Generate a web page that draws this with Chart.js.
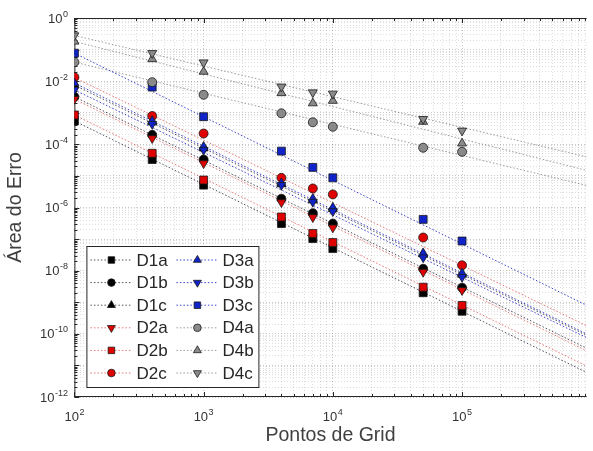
<!DOCTYPE html>
<html>
<head>
<meta charset="utf-8">
<script src="https://cdn.jsdelivr.net/npm/chart.js@4.4.1/dist/chart.umd.min.js"></script>
<style>
  html, body { margin: 0; padding: 0; background: #fff; }
</style>
</head>
<body>
<canvas id="chart" width="593" height="451"></canvas>
<script>
// grid sizes (x) and error area per case (y), log-log
const gridPoints = [100, 400, 1000, 4000, 7000, 10000, 50000, 100000];

const D1a = [5.5e-4, 3.3e-5, 5.1e-6, 3.1e-7, 1.04e-7, 5.0e-8, 2.0e-9, 5.2e-10];
const D1b = [3.2e-3, 2.0e-4, 3.3e-5, 1.9e-6, 6.6e-7, 3.1e-7, 1.15e-8, 2.9e-9];
const D1c = [7.5e-3, 5.0e-4, 7.5e-5, 5.5e-6, 1.7e-6, 9.0e-7, 3.3e-8, 7.5e-9];
const D2a = [2.7e-3, 1.55e-4, 2.5e-5, 1.45e-6, 4.9e-7, 2.3e-7, 9.1e-9, 2.4e-9];
const D2b = [8.5e-4, 5.2e-5, 7.4e-6, 5.0e-7, 1.5e-7, 7.8e-8, 3.0e-9, 7.9e-10];
const D2c = [1.34e-2, 7.9e-4, 2.2e-4, 8.7e-6, 4.0e-6, 2.6e-6, 1.12e-7, 1.48e-8];
const D3a = [8.7e-3, 5.5e-4, 8.4e-5, 5.9e-6, 1.9e-6, 1.0e-6, 3.6e-8, 8.3e-9];
const D3b = [5.3e-3, 4.4e-4, 6.6e-5, 5.1e-6, 1.5e-6, 7.6e-7, 2.6e-8, 6.3e-9];
const D3c = [7.7e-2, 6.5e-3, 7.5e-4, 6.1e-5, 1.86e-5, 8.7e-6, 4.2e-7, 8.7e-8];
const D4a = [4.0e-2, 9.3e-3, 3.7e-3, 9.6e-4, 5.0e-4, 3.6e-4, 7.8e-5, 5.8e-5];
const D4b = [0.18, 0.050, 0.020, 4.2e-3, 2.0e-3, 2.4e-3, 5.2e-4, 1.07e-4];
const D4c = [0.28, 0.077, 0.039, 6.7e-3, 4.4e-3, 4.0e-3, 6.3e-4, 2.7e-4];

const seriesNames = ['D1a', 'D1b', 'D1c', 'D2a', 'D2b', 'D2c', 'D3a', 'D3b', 'D3c', 'D4a', 'D4b', 'D4c'];
const seriesValues = [D1a, D1b, D1c, D2a, D2b, D2c, D3a, D3b, D3c, D4a, D4b, D4c];

// trend lines: value at the left edge and at the right edge of the axes
const fitStart = [5.5e-4, 3.2e-3, 7.5e-3, 2.7e-3, 8.5e-4, 1.3e-2, 8.7e-3, 5.3e-3, 7.7e-2, 4.0e-2, 0.18, 0.28];
const fitEnd   = [6e-12, 3.5e-11, 9e-11, 2.9e-11, 9.5e-12, 1.8e-10, 1.0e-10, 7.6e-11, 8e-10, 5e-6, 1.5e-5, 4e-5];

const xMin = 100, xMax = 9.2e5;
const yMin = 1e-12, yMax = 1;
const xLabelExps = [2, 3, 4, 5];
const yLabelExps = [0, -2, -4, -6, -8, -10, -12];

// marker look per series
const FILL = { k: '#000000', r: '#e00000', b: '#0f23c8', g: '#8a8a8a' };
const LINE = { k: 'rgba(50,50,70,0.85)', r: 'rgba(225,70,70,0.75)', b: 'rgba(25,35,200,0.85)', g: 'rgba(120,120,120,0.75)' };
const STYLE = [
  ['k', 'rect'], ['k', 'circle'], ['k', 'up'],
  ['r', 'down'], ['r', 'rect'], ['r', 'circle'],
  ['b', 'up'], ['b', 'down'], ['b', 'rect'],
  ['g', 'circle'], ['g', 'up'], ['g', 'down'],
];
const FONT = '"Liberation Sans", Arial, Helvetica, sans-serif';

const isMajor = v => Math.abs(Math.log10(v) - Math.round(Math.log10(v))) < 1e-6;
function logTicks(lo, hi) {
  const out = [];
  for (let e = Math.floor(Math.log10(lo)); e <= Math.ceil(Math.log10(hi)); e++)
    for (let m = 1; m < 10; m++) {
      const v = m * Math.pow(10, e);
      if (v >= lo * 0.999 && v <= hi * 1.001) out.push({ value: v });
    }
  return out;
}

function pointStyleOf(shape) { return shape === 'up' || shape === 'down' ? 'triangle' : shape; }
function radiusOf(shape) { return shape === 'rect' ? 5.6 : shape === 'circle' ? 4.5 : 5.2; }

const datasets = [];
seriesNames.forEach((name, i) => {
  const [c, shape] = STYLE[i];
  datasets.push({
    label: name,
    data: gridPoints.map((x, j) => ({ x, y: seriesValues[i][j] })),
    showLine: false,
    pointStyle: pointStyleOf(shape),
    pointRotation: shape === 'down' ? 180 : 0,
    pointRadius: radiusOf(shape),
    pointBackgroundColor: FILL[c],
    pointBorderColor: '#1a1a1a',
    pointBorderWidth: 0.8,
    order: 11 - i,
  });
});
seriesNames.forEach((name, i) => {
  const c = STYLE[i][0];
  datasets.push({
    label: name + ' fit',
    data: [{ x: xMin, y: fitStart[i] }, { x: xMax, y: fitEnd[i] }],
    showLine: true,
    borderColor: LINE[c],
    borderWidth: 1,
    borderDash: [1.5, 2],
    pointRadius: 0,
    order: 20 + i,
  });
});

function drawMarker(ctx, shape, color, x, y, r) {
  ctx.beginPath();
  if (shape === 'rect') {
    const s = r * Math.SQRT1_2;
    ctx.rect(x - s, y - s, 2 * s, 2 * s);
  } else if (shape === 'circle') {
    ctx.arc(x, y, r, 0, Math.PI * 2);
  } else {
    const d = shape === 'down' ? -1 : 1;
    ctx.moveTo(x, y - d * r);
    ctx.lineTo(x + r * 0.866, y + d * r * 0.5);
    ctx.lineTo(x - r * 0.866, y + d * r * 0.5);
    ctx.closePath();
  }
  ctx.fillStyle = color; ctx.fill();
  ctx.lineWidth = 0.8; ctx.strokeStyle = '#1a1a1a'; ctx.stroke();
}

function drawPow(ctx, exp, x, baseline, align) {
  ctx.font = '13px ' + FONT;
  const w10 = ctx.measureText('10').width;
  ctx.font = '9px ' + FONT;
  const we = ctx.measureText(String(exp)).width;
  const total = w10 + we + 0.5;
  const start = align === 'right' ? x - total : x - total / 2;
  ctx.textAlign = 'left'; ctx.textBaseline = 'alphabetic';
  ctx.font = '13px ' + FONT;
  ctx.fillText('10', start, baseline);
  ctx.font = '9px ' + FONT;
  ctx.fillText(String(exp), start + w10 + 0.5, baseline - 6);
}

const frame = {
  id: 'frame',
  beforeDatasetsDraw(chart) {
    const { ctx, chartArea: a, scales: { x, y } } = chart;
    ctx.save();
    ctx.strokeStyle = '#262626'; ctx.lineWidth = 1;
    ctx.beginPath();
    ctx.moveTo(a.left + 0.5, a.top); ctx.lineTo(a.left + 0.5, a.bottom);
    ctx.moveTo(a.left, a.bottom - 0.5); ctx.lineTo(a.right, a.bottom - 0.5);
    ctx.moveTo(a.left, a.top + 0.5); ctx.lineTo(a.right, a.top + 0.5);
    x.ticks.forEach(t => {
      const px = Math.round(x.getPixelForValue(t.value)) + 0.5;
      const len = isMajor(t.value) ? 5 : 3;
      ctx.moveTo(px, a.bottom); ctx.lineTo(px, a.bottom - len);
      ctx.moveTo(px, a.top); ctx.lineTo(px, a.top + len);
    });
    y.ticks.forEach(t => {
      const py = Math.round(y.getPixelForValue(t.value)) + 0.5;
      const len = isMajor(t.value) ? 5 : 3;
      ctx.moveTo(a.left, py); ctx.lineTo(a.left + len, py);
    });
    ctx.stroke();
    ctx.restore();
  },
  afterDraw(chart) {
    const { ctx, chartArea: a, scales: { x, y } } = chart;
    ctx.save();
    ctx.fillStyle = '#333';
    xLabelExps.forEach(e => drawPow(ctx, e, x.getPixelForValue(Math.pow(10, e)), a.bottom + 23.5, 'center'));
    yLabelExps.forEach(e => drawPow(ctx, e, a.left - 6.5, y.getPixelForValue(Math.pow(10, e)) + 4.5, 'right'));

    // legend box, two columns
    const bx = a.left + 12, by = a.top + 228, bw = 172, bh = 141;
    ctx.fillStyle = '#fff';
    ctx.fillRect(bx, by, bw, bh);
    ctx.strokeStyle = '#262626'; ctx.lineWidth = 1;
    ctx.strokeRect(bx + 0.5, by + 0.5, bw, bh);
    seriesNames.forEach((name, i) => {
      const [c, shape] = STYLE[i];
      const col = Math.floor(i / 6), row = i % 6;
      const ox = bx + 4 + col * 86, oy = by + 14 + row * 22.6;
      ctx.save();
      ctx.strokeStyle = LINE[c]; ctx.lineWidth = 1; ctx.setLineDash([1.5, 2]);
      ctx.beginPath(); ctx.moveTo(ox, oy); ctx.lineTo(ox + 40, oy); ctx.stroke();
      ctx.restore();
      drawMarker(ctx, shape, FILL[c], ox + 21, oy, shape === 'circle' ? 3.8 : 4.6);
      ctx.fillStyle = '#262626';
      ctx.font = '17px ' + FONT;
      ctx.textAlign = 'left'; ctx.textBaseline = 'middle';
      ctx.fillText(name, ox + 46, oy + 1);
    });
    ctx.restore();
  }
};

const gridColor = c => isMajor(c.tick.value) ? 'rgba(0,0,0,0.22)' : 'rgba(0,0,0,0.13)';

new Chart(document.getElementById('chart'), {
  type: 'scatter',
  data: { datasets },
  options: {
    responsive: false,
    animation: false,
    layout: { padding: { left: 0, top: 18, right: 0, bottom: 0 } },
    plugins: { legend: { display: false }, tooltip: { enabled: false } },
    scales: {
      x: {
        type: 'logarithmic', min: xMin, max: xMax,
        afterBuildTicks: s => { s.ticks = logTicks(xMin, xMax); },
        ticks: { display: false, autoSkip: false },
        grid: { color: gridColor, lineWidth: 1, drawTicks: false },
        border: { display: false, dash: [1, 2] },
        title: { display: true, text: 'Pontos de Grid', color: '#404040',
                 font: { size: 19.5, family: FONT }, padding: { top: 26.6, bottom: 4 } },
      },
      y: {
        type: 'logarithmic', min: yMin, max: yMax,
        afterBuildTicks: s => { s.ticks = logTicks(yMin, yMax); },
        ticks: { display: false, autoSkip: false },
        grid: { color: gridColor, lineWidth: 1, drawTicks: false },
        border: { display: false, dash: [1, 2] },
        title: { display: true, text: 'Área do Erro', color: '#404040',
                 font: { size: 19.5, family: FONT }, padding: { top: 4, bottom: 47 } },
      },
    },
  },
  plugins: [frame],
});
</script>
</body>
</html>
